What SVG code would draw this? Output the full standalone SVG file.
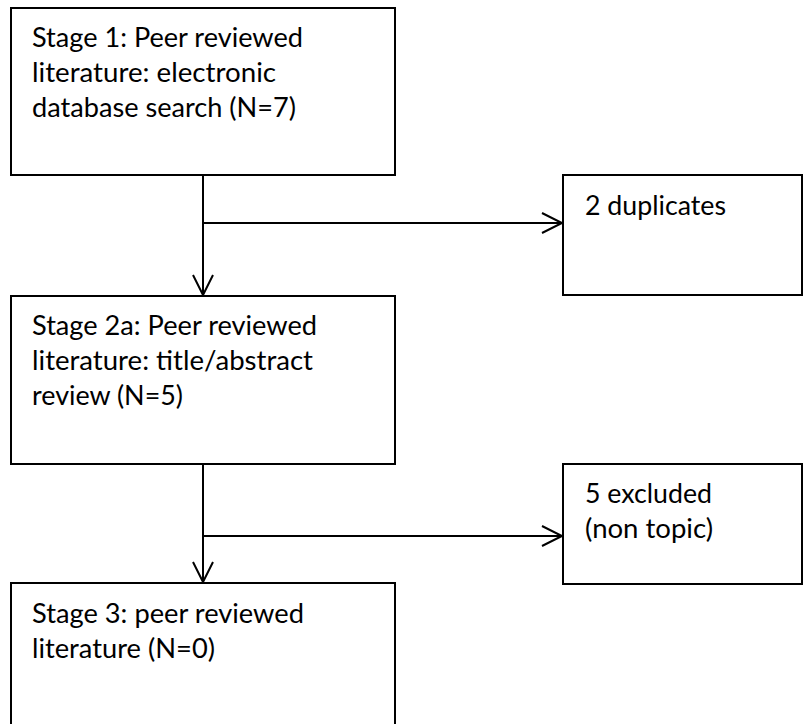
<svg xmlns="http://www.w3.org/2000/svg" width="803" height="724" viewBox="0 0 803 724">
  <style>
    .box { fill: #ffffff; stroke: #000000; stroke-width: 2; }
    .conn { fill: none; stroke: #000000; stroke-width: 2; }
    .lbl { font-family: Lato, "Liberation Sans", sans-serif; font-size: 26px; fill: #000000; }
  </style>
  <defs>
    <marker id="arrow" viewBox="-23 -12 26 24" refX="0" refY="0" markerWidth="26" markerHeight="24" markerUnits="userSpaceOnUse" orient="auto">
      <path d="M-20,-10 L0,0 L-20,10" fill="none" stroke="#000000" stroke-width="2"/>
    </marker>
  </defs>
  <rect width="803" height="724" fill="#ffffff"/>

  <g id="connectors">
    <path class="conn" d="M203,175 V295" marker-end="url(#arrow)"/>
    <path class="conn" d="M203,223 H562" marker-end="url(#arrow)"/>
    <path class="conn" d="M203,464 V582" marker-end="url(#arrow)"/>
    <path class="conn" d="M203,536 H562" marker-end="url(#arrow)"/>
  </g>

  <g id="stage1">
    <rect class="box" x="11" y="8" width="384" height="167"/>
    <text class="lbl" x="32" y="47" textLength="271" lengthAdjust="spacingAndGlyphs">Stage 1: Peer reviewed</text>
    <text class="lbl" x="32" y="82" textLength="244" lengthAdjust="spacingAndGlyphs">literature: electronic</text>
    <text class="lbl" x="32" y="117" textLength="264" lengthAdjust="spacingAndGlyphs">database search (N=7)</text>
  </g>

  <g id="duplicates">
    <rect class="box" x="563" y="175" width="239" height="120"/>
    <text class="lbl" x="585" y="215" textLength="141" lengthAdjust="spacingAndGlyphs">2 duplicates</text>
  </g>

  <g id="stage2a">
    <rect class="box" x="11" y="296" width="384" height="168"/>
    <text class="lbl" x="32" y="335" textLength="285" lengthAdjust="spacingAndGlyphs">Stage 2a: Peer reviewed</text>
    <text class="lbl" x="32" y="370" textLength="281" lengthAdjust="spacingAndGlyphs">literature: title/abstract</text>
    <text class="lbl" x="32" y="405" textLength="151" lengthAdjust="spacingAndGlyphs">review (N=5)</text>
  </g>

  <g id="excluded">
    <rect class="box" x="563" y="464" width="239" height="120"/>
    <text class="lbl" x="585" y="503" textLength="127" lengthAdjust="spacingAndGlyphs">5 excluded</text>
    <text class="lbl" x="585" y="538" textLength="128" lengthAdjust="spacingAndGlyphs">(non topic)</text>
  </g>

  <g id="stage3">
    <rect class="box" x="11" y="583" width="384" height="150"/>
    <text class="lbl" x="32" y="623" textLength="272" lengthAdjust="spacingAndGlyphs">Stage 3: peer reviewed</text>
    <text class="lbl" x="32" y="658" textLength="183" lengthAdjust="spacingAndGlyphs">literature (N=0)</text>
  </g>
</svg>
